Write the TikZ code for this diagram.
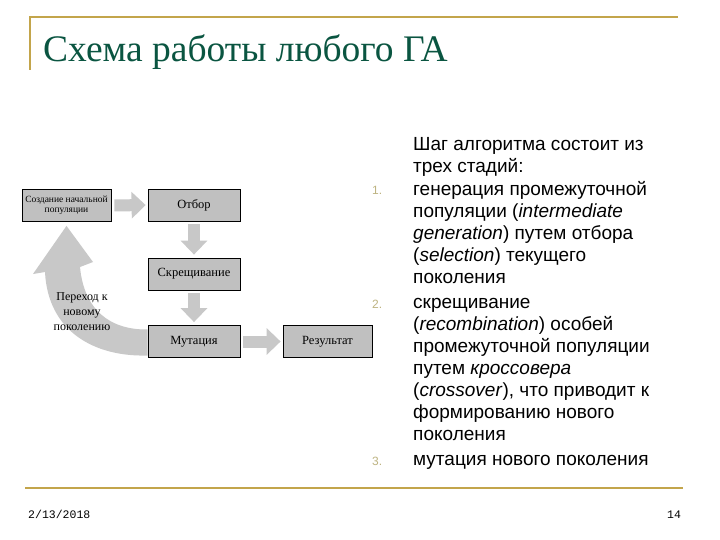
\documentclass[tikz,border=0pt]{standalone}
\usepackage{fontspec}
\setmainfont{Liberation Serif}
\newfontfamily\sansf{Liberation Sans}
\newfontfamily\monof{Liberation Mono}
\usetikzlibrary{arrows.meta}
\definecolor{gold}{RGB}{195,165,75}
\definecolor{titlegreen}{RGB}{10,85,65}
\definecolor{boxgray}{RGB}{192,192,192}
\definecolor{arrowgray}{RGB}{200,200,200}
\definecolor{numcol}{RGB}{190,180,130}
\begin{document}
\begin{tikzpicture}[x=1pt,y=-1pt,
  stage/.style={draw=black, line width=0.8pt, fill=boxgray, minimum width=92pt,
    minimum height=32pt, inner sep=1pt, align=center,
    font=\fontsize{12.5}{13.5}\selectfont},
  blockarrow/.style={draw=arrowgray, line width=12pt,
    -{Triangle[length=14pt,width=26pt]}},
  bodytext/.style={anchor=north west, inner sep=0pt, align=left,
    font=\sansf\fontsize{19}{22}\selectfont},
  numtext/.style={anchor=base west, inner sep=0pt, text=numcol,
    font=\sansf\fontsize{12}{14}\selectfont},
  foot/.style={anchor=base west, inner sep=0pt, font=\monof\fontsize{11.5}{12}\selectfont}]
\useasboundingbox (0,0) rectangle (720,540);
\fill[white] (0,0) rectangle (720,540);

% frame lines
\draw[gold, line width=1.8pt] (30,70) -- (30,17) -- (678,17);
\draw[gold, line width=1.8pt] (25,488) -- (683,488);

% title
\node[anchor=base west, inner sep=0pt, text=titlegreen,
  font=\fontsize{37.5}{40}\selectfont] (title) at (43,62) {Схема работы любого ГА};

% diagram boxes
\node[stage, minimum width=89pt, font=\fontsize{9.5}{10.5}\selectfont] (init) at (66.5,205.5)
  {Создание начальной\\популяции};
\node[stage] (sel) at (194,205) {Отбор};
\node[stage] (cross) at (194,274) {Скрещивание};
\node[stage] (mut) at (194,341.5) {Мутация};
\node[stage, minimum width=89pt] (res) at (327.5,341.5) {Результат};

% block arrows
\draw[blockarrow] ([xshift=3pt]init.east) -- ([xshift=-2pt]sel.west);
\draw[blockarrow] ([yshift=-3pt]sel.south) -- ([yshift=3pt]cross.north);
\draw[blockarrow] ([yshift=-3pt]cross.south) -- ([yshift=3pt]mut.north);
\draw[blockarrow] ([xshift=3pt]mut.east) -- ([xshift=-2pt]res.west);

% curved return arrow
\coordinate (cbot) at ([yshift=-14pt]mut.west);
\coordinate (ctop) at ([yshift=12pt]mut.west);
\coordinate (ctip) at ([yshift=-4pt]init.south);
\fill[arrowgray] (cbot) .. controls (95,357) and (48,332) .. (45,272)
  -- (33,274) -- (ctip) -- (93,262) -- (80,267)
  .. controls (84,310) and (110,330) .. (ctop) -- cycle;
\node[align=center, inner sep=0pt, font=\fontsize{12}{15}\selectfont] (back) at (82,312)
  {Переход к\\новому\\поколению};

% numbers
\node[numtext] (n1) at (372,195) {1.};
\node[numtext] (n2) at (372,308) {2.};
\node[numtext] (n3) at (372,465) {3.};

% right text (top = first baseline - 15.4pt strut height)
\node[bodytext] (p0) at (413,134.6) {\strut Шаг алгоритма состоит из\\трех стадий:};
\node[bodytext] (p1) at (413,179.6) {\strut генерация промежуточной\\популяции (\textit{intermediate}\\\textit{generation}) путем отбора\\(\textit{selection}) текущего\\поколения};
\node[bodytext] (p2) at (413,292.6) {\strut скрещивание\\(\textit{recombination}) особей\\промежуточной популяции\\путем \textit{кроссовера}\\(\textit{crossover}), что приводит к\\формированию нового\\поколения};
\node[bodytext] (p3) at (413,449.6) {\strut мутация нового поколения};

% footer
\node[foot] (date) at (28,518) {2/13/2018};
\node[foot] (page) at (667,518) {14};
\end{tikzpicture}
\end{document}
